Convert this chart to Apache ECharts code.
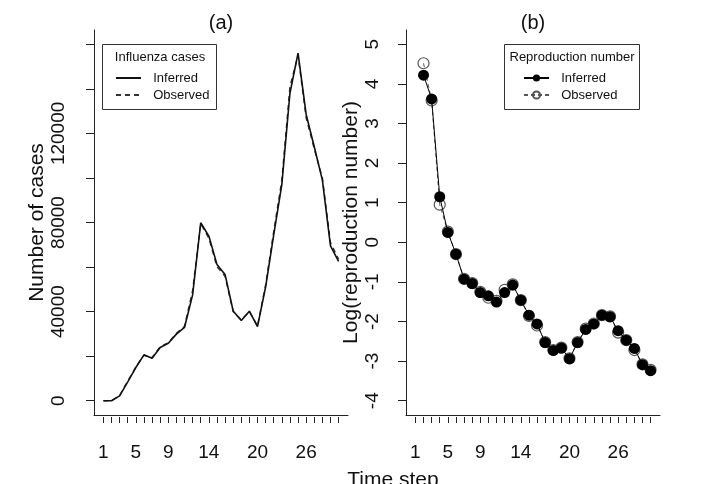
<!DOCTYPE html>
<html>
<head>
<meta charset="utf-8" />
<title>Influenza cases and reproduction number</title>
<script src="https://cdn.jsdelivr.net/npm/echarts@6/dist/echarts.min.js"></script>
<style>html,body{margin:0;padding:0;background:#fff;}</style>
</head>
<body>
<div id="main" style="width:708px;height:484px;"></div>
<script>
// time steps
var steps = [1, 2, 3, 4, 5, 6, 7, 8, 9, 10, 11, 12, 13, 14, 15, 16, 17, 18, 19, 20, 21, 22, 23, 24, 25, 26, 27, 28, 29, 30];
var stepLabels = [1, 5, 9, 14, 20, 26];

// (a) number of cases
var casesInferred = [0, 0, 2200, 8500, 14900, 20600, 19100, 23900, 25800, 29900, 32900, 47500, 79900, 73900, 61200, 56700,
  40300, 36000, 40200, 33300, 51000, 74500, 97000, 138000, 156000, 128500, 114000, 99000, 69500, 62500];
var casesObserved = [0, 0, 2400, 8800, 15200, 20400, 19300, 24200, 26000, 30300, 33400, 49500, 79500, 73000, 60200, 55800,
  40000, 36300, 40000, 33600, 52000, 76000, 99000, 141000, 155000, 127000, 113000, 100000, 71000, 63500];
var casesTicks = [0, 20000, 40000, 60000, 80000, 100000, 120000, 140000, 160000];
var casesLabels = [0, 40000, 80000, 120000];

// (b) log reproduction number
var stepsR = [2, 3, 4, 5, 6, 7, 8, 9, 10, 11, 12, 13, 14, 15, 16, 17, 18, 19, 20, 21, 22, 23, 24, 25, 26, 27, 28, 29, 30];
var logRInferred = [4.22, 3.62, 1.15, 0.25, -0.30, -0.93, -1.04, -1.27, -1.35, -1.51, -1.27, -1.08, -1.46, -1.84, -2.06,
  -2.53, -2.73, -2.67, -2.94, -2.53, -2.20, -2.06, -1.84, -1.88, -2.23, -2.47, -2.68, -3.09, -3.24];
var logRObserved = [4.52, 3.58, 0.95, 0.27, -0.30, -0.92, -1.03, -1.25, -1.40, -1.48, -1.20, -1.06, -1.46, -1.86, -2.10,
  -2.52, -2.72, -2.66, -2.93, -2.52, -2.18, -2.05, -1.84, -1.87, -2.28, -2.47, -2.72, -3.08, -3.22];
var logRTicks = [-4, -3, -2, -1, 0, 1, 2, 3, 4, 5];

function pairs(xs, ys) {
  return xs.map(function (x, i) { return [x, ys[i]]; });
}

var font = '"Liberation Sans", Arial, Helvetica, sans-serif';
var ink = '#222';

function boxX(grid) {
  return {
    type: 'value', gridIndex: grid, position: 'bottom', min: -0.16, max: 31.16,
    axisLine: { show: true, onZero: false, lineStyle: { color: ink, width: 1 } },
    axisTick: { show: false }, axisLabel: { show: false }, splitLine: { show: false }
  };
}
function tickX(grid) {
  return {
    type: 'value', gridIndex: grid, position: 'bottom', min: -0.16, max: 31.16, offset: 2,
    axisLine: { show: false, onZero: false },
    axisTick: { show: true, length: 6, customValues: steps, lineStyle: { color: ink, width: 1 } },
    axisLabel: { show: true, customValues: stepLabels, margin: 26, color: '#111', fontSize: 19, fontFamily: font },
    splitLine: { show: false }
  };
}

var chart = echarts.init(document.getElementById('main'));
chart.setOption({
  animation: false,
  backgroundColor: '#fff',
  grid: [
    { left: 94, top: 30, width: 254, height: 385 },
    { left: 406, top: 30, width: 254, height: 385 }
  ],
  xAxis: [boxX(0), tickX(0), boxX(1), tickX(1)],
  yAxis: [
    {
      type: 'value', gridIndex: 0, position: 'left', min: -6400, max: 166400,
      name: 'Number of cases', nameLocation: 'middle', nameRotate: 90, nameGap: 40,
      nameTextStyle: { fontSize: 21, fontFamily: font, color: '#111' },
      axisLine: { show: true, onZero: false, lineStyle: { color: ink, width: 1 } },
      axisTick: { show: true, length: 8, customValues: casesTicks, lineStyle: { color: ink, width: 1 } },
      axisLabel: {
        show: true, customValues: casesLabels, rotate: 90, margin: 26, color: '#111', fontSize: 19, fontFamily: font,
        formatter: function (v) { return String(v); }
      },
      splitLine: { show: false }
    },
    {
      type: 'value', gridIndex: 1, position: 'left', min: -4.36, max: 5.36,
      name: 'Log(reproduction number)', nameLocation: 'middle', nameRotate: 90, nameGap: 33,
      nameTextStyle: { fontSize: 21, fontFamily: font, color: '#111' },
      axisLine: { show: true, onZero: false, lineStyle: { color: ink, width: 1 } },
      axisTick: { show: true, length: 8, customValues: logRTicks, lineStyle: { color: ink, width: 1 } },
      axisLabel: { show: true, customValues: logRTicks, rotate: 90, margin: 24, color: '#111', fontSize: 19, fontFamily: font },
      splitLine: { show: false }
    }
  ],
  legend: [
    {
      orient: 'vertical', left: 115, top: 71, itemWidth: 25, itemHeight: 12, itemGap: 3, padding: 0,
      data: ['Inferred', 'Observed'],
      itemStyle: { color: 'rgba(0,0,0,0)', borderWidth: 0, opacity: 0 },
      formatter: function (n) { return '  ' + n; },
      textStyle: { fontSize: 13, fontFamily: font, color: '#111', lineHeight: 14 }
    },
    {
      orient: 'vertical', left: 523, top: 71, itemWidth: 25, itemHeight: 9, itemGap: 3, padding: 0,
      data: ['Inferred R', 'Observed R'],
      formatter: function (n) { return '  ' + n.replace(' R', ''); },
      textStyle: { fontSize: 13, fontFamily: font, color: '#111', lineHeight: 14 }
    }
  ],
  graphic: [
    { type: 'text', style: { text: '(a)', x: 221, y: 23, align: 'center', verticalAlign: 'middle', textAlign: 'center', textVerticalAlign: 'middle', font: '20px ' + font, fill: '#111' } },
    { type: 'text', style: { text: '(b)', x: 533, y: 23, align: 'center', verticalAlign: 'middle', textAlign: 'center', textVerticalAlign: 'middle', font: '20px ' + font, fill: '#111' } },
    { type: 'text', style: { text: 'Time step', x: 393, y: 480, align: 'center', verticalAlign: 'middle', textAlign: 'center', textVerticalAlign: 'middle', font: '21px ' + font, fill: '#111' } },
    { type: 'rect', shape: { x: 102.5, y: 44.5, width: 114, height: 65 }, style: { fill: 'none', stroke: '#333', lineWidth: 1 } },
    { type: 'text', style: { text: 'Influenza cases', x: 160, y: 57, align: 'center', verticalAlign: 'middle', textAlign: 'center', textVerticalAlign: 'middle', font: '13px ' + font, fill: '#111' } },
    { type: 'rect', shape: { x: 504.5, y: 44.5, width: 135, height: 65 }, style: { fill: 'none', stroke: '#333', lineWidth: 1 } },
    { type: 'text', style: { text: 'Reproduction number', x: 572, y: 57, align: 'center', verticalAlign: 'middle', textAlign: 'center', textVerticalAlign: 'middle', font: '13px ' + font, fill: '#111' } }
  ],
  series: [
    {
      name: 'Observed', type: 'line', xAxisIndex: 0, yAxisIndex: 0, symbol: 'none', z: 2,
      data: pairs(steps, casesObserved),
      lineStyle: { color: '#333', width: 1.4, type: [5, 4] }, itemStyle: { color: '#333' }
    },
    {
      name: 'Inferred', type: 'line', xAxisIndex: 0, yAxisIndex: 0, symbol: 'none', z: 3,
      data: pairs(steps, casesInferred),
      lineStyle: { color: '#111', width: 1.6 }, itemStyle: { color: '#111' }
    },
    {
      name: 'Observed R', type: 'line', xAxisIndex: 2, yAxisIndex: 1, symbol: 'circle', symbolSize: 11, z: 2,
      data: pairs(stepsR, logRObserved),
      lineStyle: { color: '#555', width: 1, type: [4, 3] },
      itemStyle: { color: 'rgba(0,0,0,0)', borderColor: '#555', borderWidth: 1.2 }
    },
    {
      name: 'Inferred R', type: 'line', xAxisIndex: 2, yAxisIndex: 1, symbol: 'circle', symbolSize: 11, z: 3,
      data: pairs(stepsR, logRInferred),
      lineStyle: { color: '#000', width: 1 },
      itemStyle: { color: '#000' }
    }
  ]
});
</script>
</body>
</html>
